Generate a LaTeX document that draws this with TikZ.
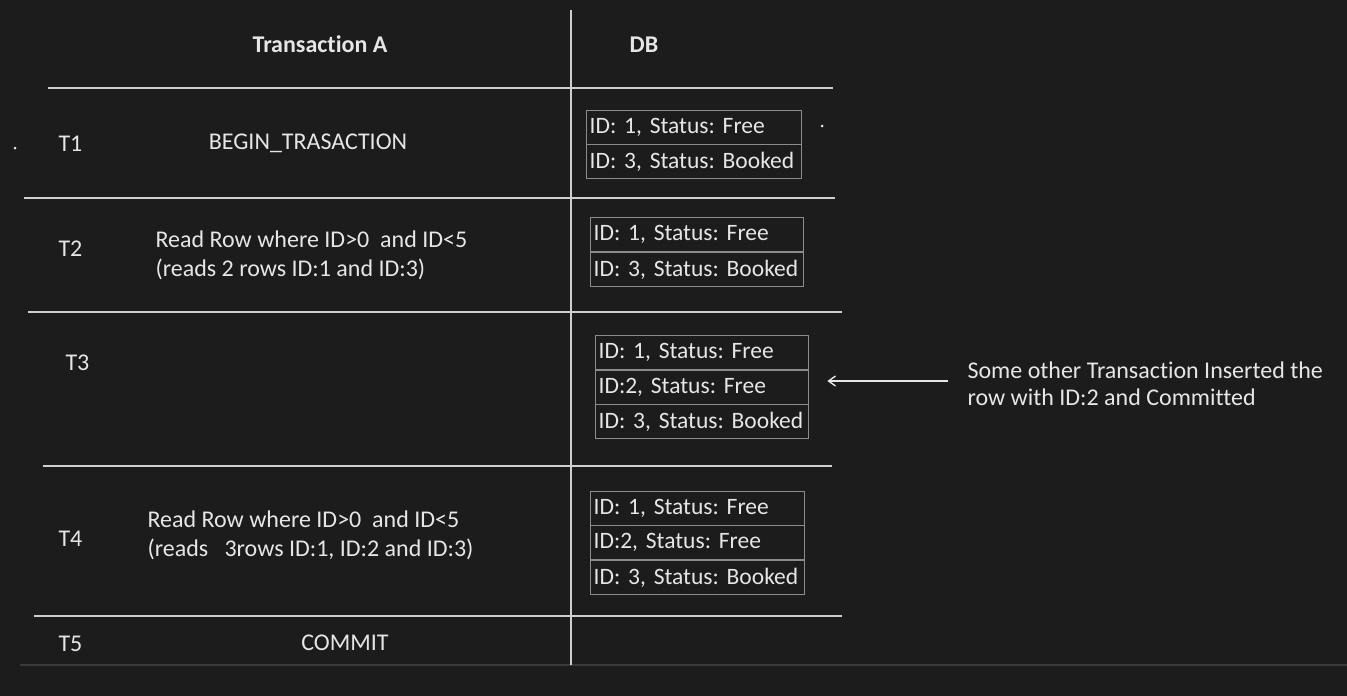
\documentclass[tikz,border=0pt]{standalone}
\usepackage{fontspec}
\setmainfont[Ligatures={NoCommon,NoDiscretionary,NoRare}]{Carlito}
\usetikzlibrary{arrows.meta}
\definecolor{bg}{HTML}{1C1C1C}
\definecolor{fg}{HTML}{E6E6E6}
\definecolor{rule}{HTML}{CFCFCF}
\definecolor{boxline}{HTML}{8C8C8C}
\definecolor{faint}{HTML}{3A3A3A}
\newcommand\rowtext[1]{\makebox[\linewidth][l]{#1}}
\begin{document}
\begin{tikzpicture}[x=1pt,y=-1pt,
  every node/.style={text=fg,font=\fontsize{24}{29}\selectfont\frenchspacing},
  rulel/.style={draw=rule,line width=1.6pt},
  hdr/.style={font=\fontsize{24}{29}\selectfont\bfseries},
  lbl/.style={anchor=mid west},
  ctr/.style={anchor=mid},
  dbrow/.style={draw=boxline,line width=1.3pt,anchor=north west,minimum height=34pt,
     font=\fontsize{23.5}{28}\selectfont\frenchspacing,
     text width=209pt,inner xsep=3pt,inner ysep=0pt,align=left,minimum width=215pt},
  arr/.style={draw=fg,line width=1.4pt,-{Straight Barb[length=7pt,width=10pt]}}]
\fill[bg] (0,0) rectangle (1347,696);
\useasboundingbox (0,0) rectangle (1347,696);
% faint bottom line
\draw[faint,line width=1.5pt] (20,665) -- (1347,665);
% table rules
\draw[rulel] (571,10) -- (571,665);
\draw[rulel] (48,88) -- (833,88);
\draw[rulel] (24,198) -- (835,198);
\draw[rulel] (28,312) -- (842,312);
\draw[rulel] (43,466) -- (832,466);
\draw[rulel] (34,616) -- (842,616);
% specks
\fill[fg] (15,148) circle (1.5);
\fill[fg] (822,126) circle (1.5);
% headers
\node[hdr,ctr] (hA) at (320,50) {Transaction A};
\node[hdr,ctr] (hDB) at (644,50) {DB};
% time labels
\node[lbl] (t1) at (55,149) {T1};
\node[lbl] (t2) at (55,254) {T2};
\node[lbl] (t3) at (62,368) {T3};
\node[lbl] (t4) at (55,544) {T4};
\node[lbl] (t5) at (55,649) {T5};
% transaction A texts
\node[ctr] (s1) at (308,147) {BEGIN\_TRASACTION};
\node[lbl] (s2a) at (152,245) {Read Row where ID>0\ \ and ID<5};
\node[lbl] (s2b) at (152,274) {(reads 2 rows ID:1 and ID:3)};
\node[lbl] (s4a) at (144,525) {Read Row where ID>0\ \ and ID<5};
\node[lbl] (s4b) at (144,554) {(reads\ \ \ 3rows ID:1, ID:2 and ID:3)};
\node[ctr] (s5) at (345,648) {COMMIT};
% DB boxes
\node[dbrow] (b1a) at (586,110) {\rowtext{ID: 1, Status: Free}};
\node[dbrow] (b1b) at (586,144) {\rowtext{ID: 3, Status: Booked}};
\node[dbrow,text width=207pt,minimum width=213pt] (b2a) at (590,217) {\rowtext{ID: 1, Status: Free}};
\node[dbrow,text width=207pt,minimum width=213pt] (b2b) at (590,252) {\rowtext{ID: 3, Status: Booked}};
\node[dbrow,text width=207pt,minimum width=213pt] (b3a) at (595,335) {\rowtext{ID: 1, Status: Free}};
\node[dbrow,text width=207pt,minimum width=213pt] (b3b) at (595,370) {\rowtext{ID:2, Status: Free}};
\node[dbrow,text width=207pt,minimum width=213pt] (b3c) at (595,404) {\rowtext{ID: 3, Status: Booked}};
\node[dbrow,text width=208pt,minimum width=214pt] (b4a) at (590,491) {\rowtext{ID: 1, Status: Free}};
\node[dbrow,text width=208pt,minimum width=214pt] (b4b) at (590,525) {\rowtext{ID:2, Status: Free}};
\node[dbrow,text width=208pt,minimum width=214pt] (b4c) at (590,560) {\rowtext{ID: 3, Status: Booked}};
% side note and arrow
\node[lbl] (n1) at (964,376) {Some other Transaction Inserted the};
\node[lbl] (n2) at (964,403) {row with ID:2 and Committed};
\coordinate (src) at (948,381);
\draw[arr] (src) -- ([xshift=18pt]src -| b3b.east);
\end{tikzpicture}
\end{document}
